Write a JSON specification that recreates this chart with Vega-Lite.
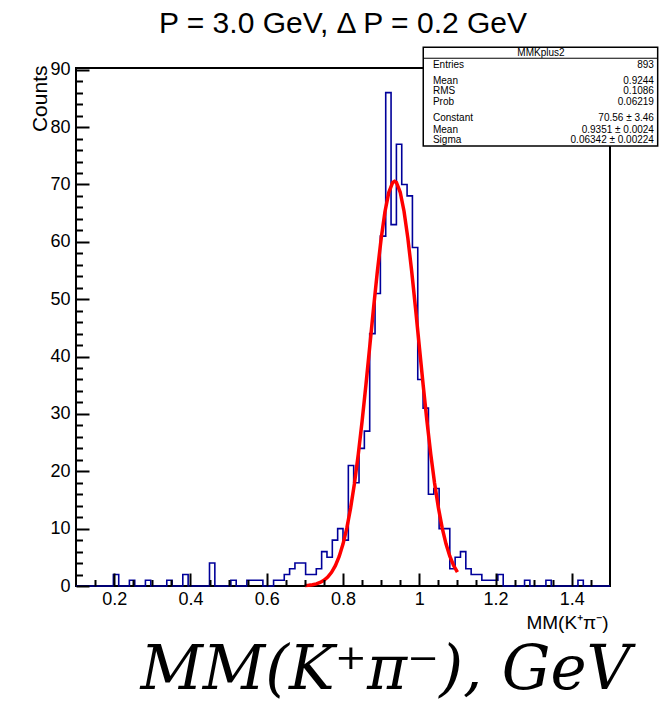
{
  "$schema": "https://vega.github.io/schema/vega-lite/v6.json",
  "width": 534,
  "height": 518,
  "autosize": {"type": "none"},
  "padding": {"left": 76, "top": 68, "right": 49, "bottom": 123},
  "background": "white",
  "config": {
    "view": {"stroke": "black", "strokeWidth": 2},
    "font": "Liberation Sans",
    "axis": {"grid": false, "domain": false, "tickColor": "black", "tickWidth": 2, "tickOpacity": 1, "labelColor": "black", "titleColor": "black", "labelFont": "Liberation Sans", "titleFont": "Liberation Sans"}
  },
  "title": {"text": "P = 3.0 GeV, Δ P = 0.2 GeV", "fontSize": 30, "fontWeight": "normal", "font": "Liberation Sans", "color": "black", "anchor": "middle", "offset": 8},
  "datasets": {
    "hist": [{"lo":0.1,"n":0},{"lo":0.114,"n":0},{"lo":0.128,"n":0},{"lo":0.142,"n":0},{"lo":0.156,"n":0},{"lo":0.17,"n":0},{"lo":0.184,"n":0},{"lo":0.198,"n":2},{"lo":0.212,"n":0},{"lo":0.226,"n":0},{"lo":0.24,"n":1},{"lo":0.254,"n":0},{"lo":0.268,"n":0},{"lo":0.282,"n":1},{"lo":0.296,"n":0},{"lo":0.31,"n":0},{"lo":0.324,"n":0},{"lo":0.338,"n":1},{"lo":0.352,"n":0},{"lo":0.366,"n":0},{"lo":0.38,"n":2},{"lo":0.394,"n":0},{"lo":0.408,"n":0},{"lo":0.422,"n":0},{"lo":0.436,"n":0},{"lo":0.45,"n":4},{"lo":0.464,"n":0},{"lo":0.478,"n":0},{"lo":0.492,"n":0},{"lo":0.506,"n":1},{"lo":0.52,"n":0},{"lo":0.534,"n":0},{"lo":0.548,"n":1},{"lo":0.562,"n":1},{"lo":0.576,"n":1},{"lo":0.59,"n":0},{"lo":0.604,"n":0},{"lo":0.618,"n":1},{"lo":0.632,"n":1},{"lo":0.646,"n":2},{"lo":0.66,"n":3},{"lo":0.674,"n":4},{"lo":0.688,"n":4},{"lo":0.702,"n":2},{"lo":0.716,"n":2},{"lo":0.73,"n":3},{"lo":0.744,"n":6},{"lo":0.758,"n":5},{"lo":0.772,"n":8},{"lo":0.786,"n":10},{"lo":0.8,"n":8},{"lo":0.814,"n":21},{"lo":0.828,"n":18},{"lo":0.842,"n":24},{"lo":0.856,"n":27},{"lo":0.87,"n":44},{"lo":0.884,"n":51},{"lo":0.898,"n":61},{"lo":0.912,"n":86},{"lo":0.926,"n":63},{"lo":0.94,"n":77},{"lo":0.954,"n":70},{"lo":0.968,"n":68},{"lo":0.982,"n":59},{"lo":0.996,"n":36},{"lo":1.01,"n":31},{"lo":1.024,"n":16},{"lo":1.038,"n":17},{"lo":1.052,"n":10},{"lo":1.066,"n":10},{"lo":1.08,"n":3},{"lo":1.094,"n":5},{"lo":1.108,"n":6},{"lo":1.122,"n":3},{"lo":1.136,"n":2},{"lo":1.15,"n":2},{"lo":1.164,"n":1},{"lo":1.178,"n":1},{"lo":1.192,"n":1},{"lo":1.206,"n":2},{"lo":1.22,"n":0},{"lo":1.234,"n":0},{"lo":1.248,"n":0},{"lo":1.262,"n":0},{"lo":1.276,"n":1},{"lo":1.29,"n":0},{"lo":1.304,"n":0},{"lo":1.318,"n":0},{"lo":1.332,"n":1},{"lo":1.346,"n":0},{"lo":1.36,"n":0},{"lo":1.374,"n":0},{"lo":1.388,"n":0},{"lo":1.402,"n":0},{"lo":1.416,"n":1},{"lo":1.43,"n":0},{"lo":1.444,"n":0},{"lo":1.458,"n":0},{"lo":1.472,"n":0},{"lo":1.486,"n":0},{"lo":1.5,"n":0}],
    "fit": [{"x":0.70,"f":0.073},{"x":0.71,"f":0.130},{"x":0.72,"f":0.224},{"x":0.73,"f":0.378},{"x":0.74,"f":0.622},{"x":0.75,"f":0.997},{"x":0.76,"f":1.560},{"x":0.77,"f":2.382},{"x":0.78,"f":3.547},{"x":0.79,"f":5.150},{"x":0.80,"f":7.299},{"x":0.81,"f":10.083},{"x":0.82,"f":13.594},{"x":0.83,"f":17.874},{"x":0.84,"f":22.923},{"x":0.85,"f":28.679},{"x":0.86,"f":34.998},{"x":0.87,"f":41.661},{"x":0.88,"f":48.379},{"x":0.89,"f":54.793},{"x":0.90,"f":60.538},{"x":0.91,"f":65.245},{"x":0.92,"f":68.588},{"x":0.93,"f":70.332},{"x":0.935,"f":70.56},{"x":0.94,"f":70.350},{"x":0.95,"f":68.639},{"x":0.96,"f":65.326},{"x":0.97,"f":60.646},{"x":0.98,"f":54.918},{"x":0.99,"f":48.510},{"x":1.00,"f":41.800},{"x":1.01,"f":35.131},{"x":1.02,"f":28.800},{"x":1.03,"f":23.031},{"x":1.04,"f":17.967},{"x":1.05,"f":13.673},{"x":1.06,"f":10.147},{"x":1.07,"f":7.347},{"x":1.08,"f":5.187},{"x":1.09,"f":3.573},{"x":1.10,"f":2.401}],
    "box": [{"x1": 1.0104, "x2": 1.625, "y1": 76.7, "y2": 93.9, "ys": 92.0}],
    "stats": [
      {"label": "Entries", "value": "893", "yv": 90.82},
      {"label": "Mean", "value": "0.9244", "yv": 88.12},
      {"label": "RMS", "value": "0.1086", "yv": 86.21},
      {"label": "Prob", "value": "0.06219", "yv": 84.29},
      {"label": "Constant", "value": "70.56 ± 3.46", "yv": 81.5},
      {"label": "Mean", "value": "0.9351 ± 0.0024", "yv": 79.5},
      {"label": "Sigma", "value": "0.06342 ± 0.00224", "yv": 77.67}
    ],
    "head": [{"name": "MMKplus2", "xv": 1.3189, "yv": 93.0}]
  },
  "layer": [
    {
      "data": {"name": "hist"},
      "mark": {"type": "line", "interpolate": "step-after", "color": "#00009a", "strokeWidth": 1.6},
      "encoding": {
        "x": {"field": "lo", "type": "quantitative", "scale": {"domain": [0.1, 1.5], "nice": false, "zero": false},
          "axis": {"orient": "bottom", "values": [0.2, 0.4, 0.6, 0.8, 1, 1.2, 1.4], "ticks": true, "tickSize": -13, "zindex": 2, "labelFontSize": 18, "labelPadding": 17.5, "format": "~g",
            "title": "MM(K⁺π⁻)", "titleFontSize": 19, "titleFontWeight": "normal", "titleAlign": "right", "titleX": 532, "titleY": 42, "titleBaseline": "alphabetic"}},
        "y": {"field": "n", "type": "quantitative", "scale": {"domain": [0, 90.3], "nice": false, "zero": false},
          "axis": {"orient": "left", "values": [0, 10, 20, 30, 40, 50, 60, 70, 80, 90], "ticks": true, "tickSize": -13, "zindex": 2, "labelFontSize": 18, "labelPadding": 19,
            "title": "Counts", "titleFontSize": 21, "titleFontWeight": "normal", "titleAngle": -90, "titleAlign": "right", "titleX": -30, "titleY": -3, "titleBaseline": "alphabetic"}}
      }
    },
    {
      "data": {"name": "fit"},
      "mark": {"type": "line", "color": "#ff0000", "strokeWidth": 3.5},
      "encoding": {
        "x": {"field": "x", "type": "quantitative", "scale": {"domain": [0.1, 1.5], "nice": false, "zero": false},
          "axis": {"orient": "bottom", "values": [0.15, 0.25, 0.3, 0.35, 0.45, 0.5, 0.55, 0.65, 0.7, 0.75, 0.85, 0.9, 0.95, 1.05, 1.1, 1.15, 1.25, 1.3, 1.35, 1.45], "ticks": true, "tickSize": -6.5, "zindex": 2, "labels": false,
            "title": "MM(K⁺π⁻), GeV", "titleFont": "DejaVu Serif", "titleFontStyle": "italic", "titleFontWeight": "normal", "titleFontSize": 61, "titleX": 309, "titleY": 102, "titleAlign": "center", "titleBaseline": "alphabetic"}},
        "y": {"field": "f", "type": "quantitative", "scale": {"domain": [0, 90.3], "nice": false, "zero": false},
          "axis": {"orient": "left", "values": [2, 4, 6, 8, 12, 14, 16, 18, 22, 24, 26, 28, 32, 34, 36, 38, 42, 44, 46, 48, 52, 54, 56, 58, 62, 64, 66, 68, 72, 74, 76, 78, 82, 84, 86, 88], "ticks": true, "tickSize": -6.5, "zindex": 2, "labels": false, "title": null}}
      }
    },
    {
      "data": {"name": "box"},
      "mark": {"type": "rect", "fill": "white", "stroke": "black", "strokeWidth": 1.5},
      "encoding": {
        "x": {"field": "x1", "type": "quantitative", "scale": {"domain": [0.1, 1.5], "nice": false, "zero": false}, "axis": null},
        "x2": {"field": "x2"},
        "y": {"field": "y1", "type": "quantitative", "scale": {"domain": [0, 90.3], "nice": false, "zero": false}, "axis": null},
        "y2": {"field": "y2"}
      }
    },
    {
      "data": {"name": "box"},
      "mark": {"type": "rule", "color": "black", "strokeWidth": 1},
      "encoding": {
        "x": {"field": "x1", "type": "quantitative", "scale": {"domain": [0.1, 1.5], "nice": false, "zero": false}, "axis": null},
        "x2": {"field": "x2"},
        "y": {"field": "ys", "type": "quantitative", "scale": {"domain": [0, 90.3], "nice": false, "zero": false}, "axis": null}
      }
    },
    {
      "data": {"name": "head"},
      "mark": {"type": "text", "fontSize": 10, "font": "Liberation Sans", "align": "center", "baseline": "middle", "color": "black"},
      "encoding": {
        "x": {"field": "xv", "type": "quantitative", "scale": {"domain": [0.1, 1.5], "nice": false, "zero": false}, "axis": null},
        "y": {"field": "yv", "type": "quantitative", "scale": {"domain": [0, 90.3], "nice": false, "zero": false}, "axis": null},
        "text": {"field": "name"}
      }
    },
    {
      "data": {"name": "stats"},
      "mark": {"type": "text", "fontSize": 10, "font": "Liberation Sans", "align": "left", "baseline": "middle", "color": "black"},
      "encoding": {
        "x": {"datum": 1.0358, "type": "quantitative", "scale": {"domain": [0.1, 1.5], "nice": false, "zero": false}, "axis": null},
        "y": {"field": "yv", "type": "quantitative", "scale": {"domain": [0, 90.3], "nice": false, "zero": false}, "axis": null},
        "text": {"field": "label"}
      }
    },
    {
      "data": {"name": "stats"},
      "mark": {"type": "text", "fontSize": 10, "font": "Liberation Sans", "align": "right", "baseline": "middle", "color": "black"},
      "encoding": {
        "x": {"datum": 1.6151, "type": "quantitative", "scale": {"domain": [0.1, 1.5], "nice": false, "zero": false}, "axis": null},
        "y": {"field": "yv", "type": "quantitative", "scale": {"domain": [0, 90.3], "nice": false, "zero": false}, "axis": null},
        "text": {"field": "value"}
      }
    }
  ],
  "resolve": {"axis": {"x": "independent", "y": "independent"}}
}
